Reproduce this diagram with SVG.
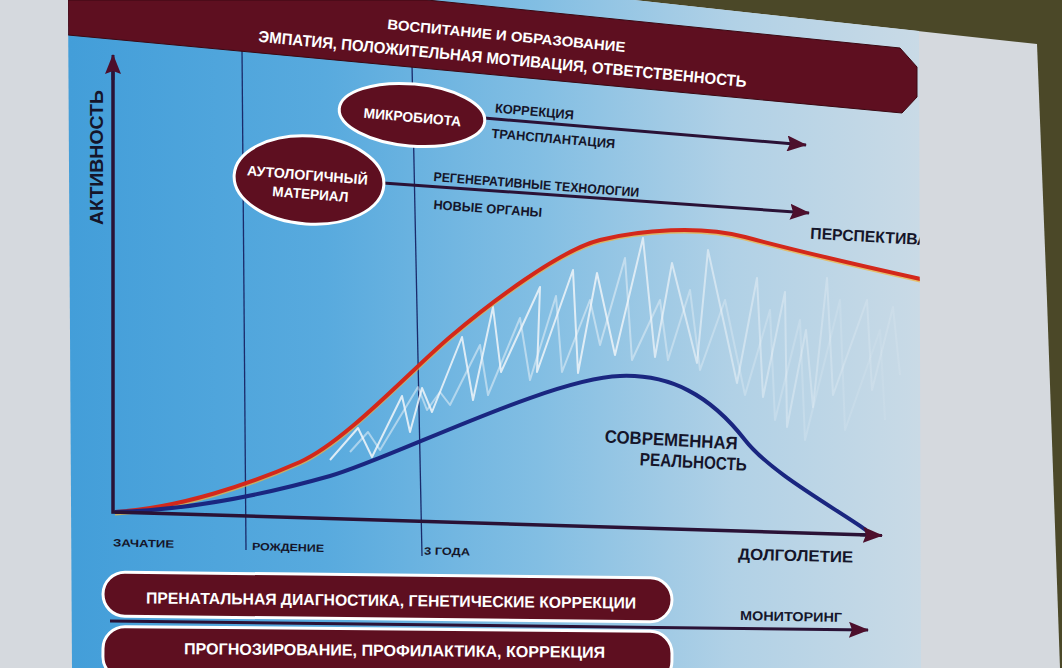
<svg xmlns="http://www.w3.org/2000/svg" width="1062" height="668" viewBox="0 0 1062 668">
<defs>
<linearGradient id="slideBg" gradientUnits="userSpaceOnUse" x1="70" y1="0" x2="920" y2="0">
<stop offset="0" stop-color="#439ed9"/>
<stop offset="0.3" stop-color="#58aade"/>
<stop offset="0.55" stop-color="#82bee3"/>
<stop offset="0.78" stop-color="#b1d1e6"/>
<stop offset="1" stop-color="#c9dae6"/>
</linearGradient>
<linearGradient id="zz" gradientUnits="userSpaceOnUse" x1="330" y1="0" x2="900" y2="0">
<stop offset="0" stop-color="#f4f7fa" stop-opacity="0.85"/>
<stop offset="0.5" stop-color="#f4f7fa" stop-opacity="0.8"/>
<stop offset="0.72" stop-color="#f4f7fa" stop-opacity="0.45"/>
<stop offset="1" stop-color="#f4f7fa" stop-opacity="0.12"/>
</linearGradient>
<clipPath id="slideClip"><polygon points="68,0 634,0 919,31 921,668 72,668"/></clipPath>
<marker id="ah" viewBox="0 0 20 16" refX="19" refY="8" markerWidth="20" markerHeight="16" markerUnits="userSpaceOnUse" orient="auto">
<path d="M0,0 L20,8 L0,16 L3,8 Z" fill="#4d0f2c"/>
</marker>
<style>
.t{font-family:"Liberation Sans",Arial,sans-serif;font-weight:bold;text-anchor:middle}
.w{fill:#ffffff}
.k{fill:#15152a}
.maroon{fill:#5e0f20}
.pill{fill:#5e0f20;stroke:#ffffff;stroke-width:3}
.ax{stroke:#2a1236;stroke-width:3.5;fill:none}
.arr{stroke:#2a1236;stroke-width:3;fill:none;marker-end:url(#ah)}
.vl{stroke:#1a2a6a;stroke-width:1.3;fill:none}
.zz{fill:none;stroke:url(#zz);stroke-width:2;stroke-linejoin:round}
</style>
</defs>

<!-- room / screen -->
<rect x="0" y="0" width="1062" height="668" fill="#4b4828"/>
<polygon points="0,0 634,0 1037,44 1047,300 1060,668 0,668" fill="#d5d9de"/>
<polygon points="68,0 634,0 919,31 921,668 72,668" fill="url(#slideBg)"/>

<g clip-path="url(#slideClip)">
<!-- vertical guide lines -->
<g id="guides">
<line class="vl" x1="242" y1="48" x2="246" y2="550"/>
<line class="vl" x1="412" y1="64" x2="422" y2="556"/>
</g>

<!-- top banner -->
<g id="banner-top">
<path class="maroon" d="M68,0 L427,0 L900,48 L917,67 L917,97 L902,113 L68,35 Z" stroke="#3a0812" stroke-width="1"/>
<text class="t w" x="506" y="40.5" font-size="14" textLength="239" lengthAdjust="spacingAndGlyphs" transform="rotate(5.5 506 40.5)">ВОСПИТАНИЕ И ОБРАЗОВАНИЕ</text>
<text class="t w" x="502" y="64.5" font-size="16" textLength="490" lengthAdjust="spacingAndGlyphs" transform="rotate(5.3 502 64.5)">ЭМПАТИЯ, ПОЛОЖИТЕЛЬНАЯ МОТИВАЦИЯ, ОТВЕТСТВЕННОСТЬ</text>
</g>

<!-- zigzag (real-life fluctuation) -->
<g id="curve-zigzag">
<polyline class="zz" points="330,460 358,428 372,457 402,396 410,432 422,388 432,412 462,337 473,400 493,307 501,372 540,287 537,372 573,270 578,373 597,273 615,355 643,238 655,357 672,263 697,363 708,250 737,383 757,278 763,397 785,292 787,427 806,330 813,407 827,278 833,395 867,300 872,390 893,307 900,375"/>
<polyline class="zz" stroke-opacity="0.6" points="350,452 368,432 380,450 418,387 427,410 440,392 450,405 480,345 488,395 520,318 530,380 556,296 562,372 590,300 600,345 625,258 632,360 660,300 668,360 690,290 700,370 725,300 745,395 770,310 775,420 800,320 805,440 840,300 845,430 880,330 885,420"/>
</g>

<!-- curves -->
<g id="curve-perspective">
<path d="M115,512 C180,508 250,484 300,462 C345,442 410,371 450,337 C490,303 560,250 600,240 C640,230 700,225 745,237 C790,249 880,270 925,280" fill="none" stroke="#f2b236" stroke-width="3" stroke-opacity="0.7" transform="translate(0,2)"/>
<path d="M115,512 C180,508 250,484 300,462 C345,442 410,371 450,337 C490,303 560,250 600,240 C640,230 700,225 745,237 C790,249 880,270 925,280" fill="none" stroke="#d3281b" stroke-width="4"/>
</g>
<g id="curve-reality">
<path d="M115,512 C190,510 270,493 330,476 C390,459 550,378 620,376 C670,374 710,395 745,440 C770,472 830,505 866,530" fill="none" stroke="#1a2680" stroke-width="4"/>
</g>

<!-- axes and connectors -->
<g id="connectors">
<polyline class="ax" points="113,70 113,512 869,535" stroke-linejoin="miter"/>
<line class="arr" x1="113" y1="80" x2="113" y2="55"/>
<line class="arr" x1="860" y1="534.7" x2="882" y2="535.4"/>
<line class="arr" x1="484" y1="118" x2="806" y2="145"/>
<line class="arr" x1="383" y1="183" x2="809" y2="213"/>
<line class="arr" x1="110" y1="621" x2="868" y2="630"/>
</g>

<!-- nodes -->
<g id="node-microbiota">
<ellipse class="pill" cx="412" cy="115" rx="73" ry="31" transform="rotate(5 412 115)"/>
<text class="t w" x="412" y="122" font-size="14" textLength="98" lengthAdjust="spacingAndGlyphs" transform="rotate(5 412 122)">МИКРОБИОТА</text>
</g>
<g id="node-autolog">
<ellipse class="pill" cx="309" cy="180" rx="75" ry="44" transform="rotate(4 309 180)"/>
<text class="t w" x="307" y="180" font-size="14" textLength="121" lengthAdjust="spacingAndGlyphs" transform="rotate(4.5 307 180)">АУТОЛОГИЧНЫЙ</text>
<text class="t w" x="310" y="199" font-size="14" textLength="76" lengthAdjust="spacingAndGlyphs" transform="rotate(4.5 310 199)">МАТЕРИАЛ</text>
</g>

<g id="labels">
<text class="t k" x="534" y="116" font-size="13" textLength="79" lengthAdjust="spacingAndGlyphs" transform="rotate(5 534 116)">КОРРЕКЦИЯ</text>
<text class="t k" x="553" y="143" font-size="13" textLength="124" lengthAdjust="spacingAndGlyphs" transform="rotate(4.8 553 143)">ТРАНСПЛАНТАЦИЯ</text>
<text class="t k" x="536" y="189" font-size="13" textLength="206" lengthAdjust="spacingAndGlyphs" transform="rotate(4.4 536 189)">РЕГЕНЕРАТИВНЫЕ ТЕХНОЛОГИИ</text>
<text class="t k" x="487.5" y="213" font-size="13" textLength="109" lengthAdjust="spacingAndGlyphs" transform="rotate(4.2 487.5 213)">НОВЫЕ ОРГАНЫ</text>
<text class="t k" x="869" y="242" font-size="16" textLength="118" lengthAdjust="spacingAndGlyphs" transform="rotate(3.2 869 242)">ПЕРСПЕКТИВА</text>
<text class="t k" x="671" y="446" font-size="18" textLength="133" lengthAdjust="spacingAndGlyphs" transform="rotate(3 671 446)">СОВРЕМЕННАЯ</text>
<text class="t k" x="693" y="468" font-size="18" textLength="107" lengthAdjust="spacingAndGlyphs" transform="rotate(3 693 468)">РЕАЛЬНОСТЬ</text>
<text class="t k" font-size="18" textLength="135" lengthAdjust="spacingAndGlyphs" transform="translate(103 157.5) rotate(-90)" x="0" y="0">АКТИВНОСТЬ</text>
<text class="t k" x="143.5" y="547" font-size="10.5" textLength="61" lengthAdjust="spacingAndGlyphs" transform="rotate(1.5 143.5 547)">ЗАЧАТИЕ</text>
<text class="t k" x="288" y="551" font-size="10.5" textLength="72" lengthAdjust="spacingAndGlyphs" transform="rotate(1.5 288 551)">РОЖДЕНИЕ</text>
<text class="t k" x="447" y="555" font-size="10.5" textLength="46" lengthAdjust="spacingAndGlyphs" transform="rotate(1.5 447 555)">3 ГОДА</text>
<text class="t k" x="795.5" y="561" font-size="16" textLength="115" lengthAdjust="spacingAndGlyphs" transform="rotate(1.5 795.5 561)">ДОЛГОЛЕТИЕ</text>
<text class="t k" x="791" y="621" font-size="13" textLength="102" lengthAdjust="spacingAndGlyphs" transform="rotate(1 791 621)">МОНИТОРИНГ</text>
</g>

<!-- bottom banners -->
<g id="banner-prenatal">
<rect class="pill" x="103" y="575" width="569" height="44" rx="22" transform="rotate(0.6 387 597)"/>
<text class="t w" x="391" y="606" font-size="16" textLength="490" lengthAdjust="spacingAndGlyphs" transform="rotate(0.6 391 606)">ПРЕНАТАЛЬНАЯ ДИАГНОСТИКА, ГЕНЕТИЧЕСКИЕ КОРРЕКЦИИ</text>
</g>
<g id="banner-prognoz">
<rect class="pill" x="103" y="629" width="569" height="52" rx="22" transform="rotate(0.5 387 650)"/>
<text class="t w" x="394.5" y="656" font-size="16" textLength="421" lengthAdjust="spacingAndGlyphs" transform="rotate(0.5 394.5 656)">ПРОГНОЗИРОВАНИЕ, ПРОФИЛАКТИКА, КОРРЕКЦИЯ</text>
</g>
</g>
</svg>
